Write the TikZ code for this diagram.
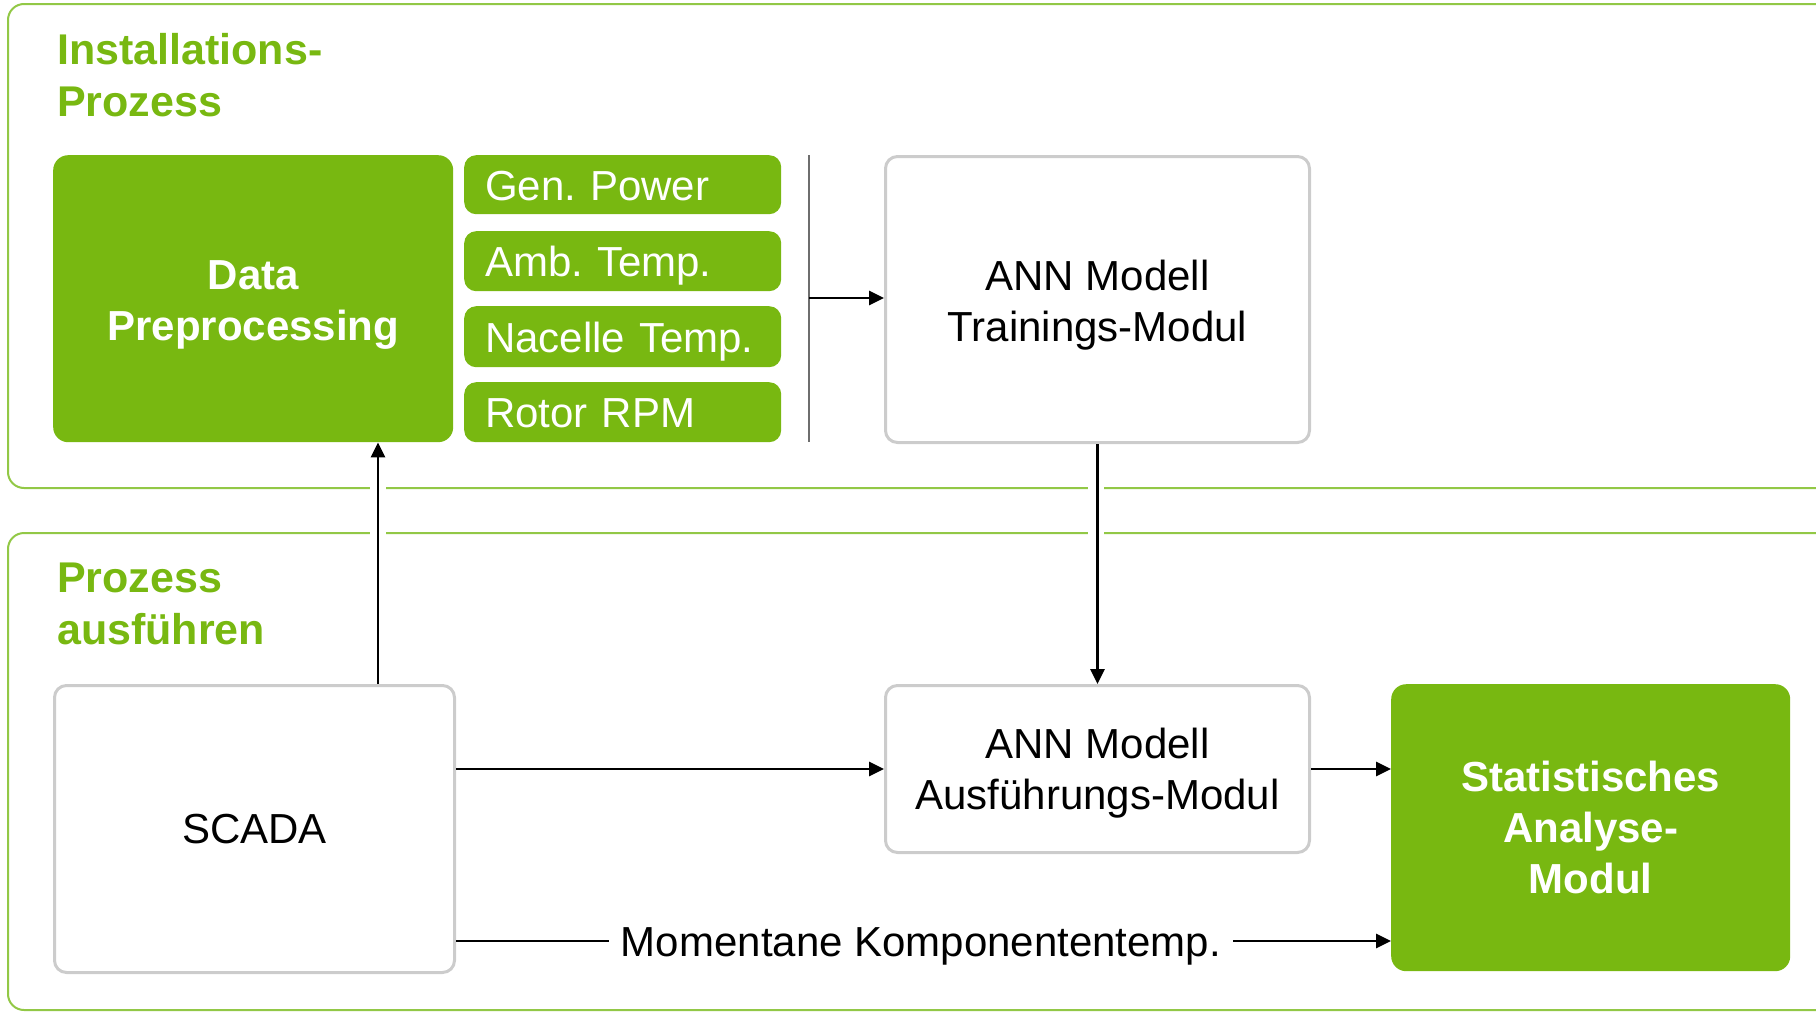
\documentclass[tikz,border=0pt]{standalone}
\usepackage{fontspec}
\setmainfont{Liberation Sans}
\usetikzlibrary{arrows.meta,calc}
\definecolor{grn}{RGB}{120,184,17}
\definecolor{frm}{RGB}{146,200,70}
\definecolor{gbrd}{RGB}{204,204,204}
\definecolor{sepc}{RGB}{110,110,110}
\newcommand\tstr[1]{\rule{0pt}{#1}}
\tikzset{
  frame/.style={draw=frm, line width=2pt, rounded corners=16pt},
  halo/.style={draw=white, line width=16pt},
  gbox/.style={draw=gbrd, line width=3pt, fill=white, rounded corners=12pt, anchor=north west,
    align=center, font=\fontsize{42pt}{51pt}\selectfont, inner sep=0pt},
  greenbox/.style={fill=grn, rounded corners=15pt, anchor=north west, text=white,
    align=center, font=\fontsize{42pt}{51pt}\selectfont\bfseries, inner sep=0pt},
  feat/.style={fill=grn, rounded corners=12pt, anchor=north west, text=white,
    minimum width=317pt, text width=275pt, inner xsep=21pt, inner ysep=0pt, align=left,
    text height=31pt, text depth=0pt, font=\fontsize{42pt}{51pt}\selectfont},
  head/.style={text=grn, anchor=north west, inner sep=0pt, align=left,
    font=\fontsize{43pt}{52pt}\selectfont\bfseries},
  arr/.style={draw=black, line width=2.7pt, -{Triangle[length=15pt,width=14pt]}},
  plain/.style={draw=black, line width=2.7pt},
  sep/.style={draw=sepc, line width=2pt},
  lbl/.style={fill=white, inner xsep=12pt, inner ysep=0pt, text height=30pt, text depth=0pt,
    font=\fontsize{42pt}{51pt}\selectfont}
}
\begin{document}
\frenchspacing
\begin{tikzpicture}[x=1pt,y=-1pt]
\useasboundingbox (0,0) rectangle (1816,1012);
\clip (0,0) rectangle (1816,1012);
% frames
\draw[frame] (8,4) rectangle (1850,488);
\draw[frame] (8,533) rectangle (1850,1010);
% headings
\node[head] (h1) at (57,33) {Installations-\\Prozess};
\node[head] (h2) at (57,563) {Prozess\\ausführen};
% boxes
\node[greenbox, minimum width=400pt, minimum height=287pt] (dp) at (53,155) {\tstr{42pt}Data\\Preprocessing};
\node[feat] (f1) at (464,155) [minimum height=59pt] {Gen. Power};
\node[feat] (f2) at (464,231) [minimum height=60pt] {Amb. Temp.};
\node[feat] (f3) at (464,306) [minimum height=61pt] {Nacelle Temp.};
\node[feat] (f4) at (464,382) [minimum height=60pt] {Rotor RPM};
\node[gbox, minimum width=424pt, minimum height=286pt] (train) at (884,155) {\tstr{42pt}ANN Modell\\Trainings-Modul};
\node[gbox, minimum width=400pt, minimum height=287pt] (scada) at (53,684) {SCADA};
\node[gbox, minimum width=424pt, minimum height=167pt] (ausf) at (884,684) {\tstr{38pt}ANN Modell\\Ausführungs-Modul};
\node[greenbox, minimum width=399pt, minimum height=287pt] (stat) at (1391,684) {Statistisches\\Analyse-\\Modul};
% separator bar
\coordinate (st) at (809,155);
\coordinate (sb) at (809,442);
\coordinate (sm) at (809,298);
\draw[sep] (st) -- (sb);
% gaps in frame lines
\coordinate (ax) at (378,0);
\draw[halo] (378,478) -- (378,543);
\draw[halo] (1096,478) -- (1096,543);
% connectors
\draw[arr] (sm) -- (train.west |- sm);
\draw[arr] (scada.north -| ax) -- (dp.south -| ax);
\draw[arr] (train.south) -- (ausf.north);
\draw[arr] (ausf.west -| scada.east) -- (ausf.west);
\draw[arr] (ausf.east) -- (ausf.east -| stat.west);
\node[lbl] (mk) at (921,941) {Momentane Komponententemp.};
\draw[plain] (mk.west -| scada.east) -- (mk.west);
\draw[arr] (mk.east) -- (mk.east -| stat.west);
\end{tikzpicture}
\end{document}
